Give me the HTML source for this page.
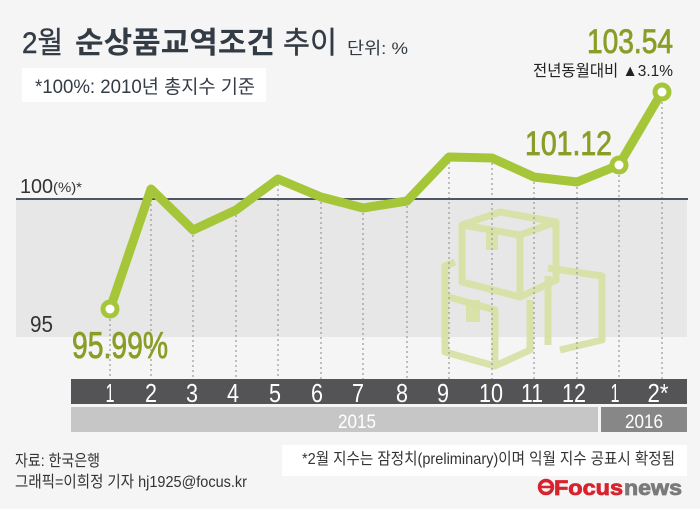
<!DOCTYPE html>
<html><head><meta charset="utf-8"><style>
html,body{margin:0;padding:0;background:#f5f5f5;}
svg{display:block;}
text{font-family:"Liberation Sans","Noto Sans CJK KR",sans-serif;}
</style></head><body>
<svg width="700" height="509" viewBox="0 0 700 509" xmlns="http://www.w3.org/2000/svg">
<rect x="0" y="0" width="700" height="509" fill="#f5f5f5"/>
<!-- gray band -->
<rect x="16" y="199" width="671" height="138" fill="#e7e7e7"/>
<!-- boxes icon -->
<g fill="none" stroke="#d7e1a2" stroke-width="7" stroke-linejoin="round" opacity="0.9">
  <polygon points="462,225 500,212 556,222 520,235"/>
  <polyline points="462,225 462,282 520,297 520,235"/>
  <polyline points="520,297 556,280 556,222"/>
  <polyline points="445,290 445,352 495,366 495,310 445,296"/>
  <polyline points="495,366 530,350 530,300"/>
  <polyline points="455,262 445,266 445,290"/>
  <polyline points="548,268 602,276 602,340 560,350"/>
  <polyline points="548,276 548,345"/>
</g>
<g fill="#d7e1a2" opacity="0.9">
  <rect x="486" y="230" width="12" height="20"/>
  <rect x="466" y="300" width="14" height="22"/>
</g>
<!-- dotted lines -->
<g stroke="#9a9a9a" stroke-width="1.2" stroke-dasharray="2,3">
  <line x1="110" y1="309" x2="110" y2="379"/>
  <line x1="151" y1="189" x2="151" y2="379"/>
  <line x1="193" y1="230" x2="193" y2="379"/>
  <line x1="236" y1="210" x2="236" y2="379"/>
  <line x1="278" y1="179" x2="278" y2="379"/>
  <line x1="321" y1="197" x2="321" y2="379"/>
  <line x1="363" y1="208" x2="363" y2="379"/>
  <line x1="407" y1="201" x2="407" y2="379"/>
  <line x1="449" y1="157" x2="449" y2="379"/>
  <line x1="492" y1="158" x2="492" y2="379"/>
  <line x1="534" y1="177" x2="534" y2="379"/>
  <line x1="577" y1="182" x2="577" y2="379"/>
  <line x1="619" y1="165" x2="619" y2="379"/>
  <line x1="662" y1="92" x2="662" y2="379"/>
</g>
<!-- 100 line -->
<line x1="16" y1="199" x2="688" y2="199" stroke="#4d5566" stroke-width="2"/>
<!-- data line -->
<polyline fill="none" stroke="#a6c63a" stroke-width="9" stroke-linejoin="round" stroke-linecap="round"
 points="110,309 151,189 193,230 236,210 278,179 321,197 363,208 407,201 449,157 492,158 534,177 577,182 619,165 662,92"/>
<g fill="#a6c63a"><circle cx="110" cy="309" r="9.5"/><circle cx="619" cy="165" r="9.5"/><circle cx="662" cy="92" r="9.5"/></g>
<g fill="#ffffff"><circle cx="110" cy="309" r="4.5"/><circle cx="619" cy="165" r="4.5"/><circle cx="662" cy="92" r="4.5"/></g>

<!-- title -->
<text x="22" y="53" font-size="30" fill="#333b45" stroke="#333b45" stroke-width="0.4" textLength="41" lengthAdjust="spacingAndGlyphs">2월</text>
<text x="75" y="53" font-size="30" font-weight="bold" fill="#333b45" textLength="200" lengthAdjust="spacingAndGlyphs">순상품교역조건</text>
<text x="283" y="53" font-size="30" fill="#333b45" stroke="#333b45" stroke-width="0.4" textLength="54" lengthAdjust="spacingAndGlyphs">추이</text>
<text x="347" y="54" font-size="17" fill="#333b45" textLength="61" lengthAdjust="spacingAndGlyphs">단위: %</text>
<rect x="22" y="68" width="244" height="34" fill="#ffffff"/>
<text x="35" y="93" font-size="19" fill="#333b45" textLength="220" lengthAdjust="spacingAndGlyphs">*100%: 2010년 총지수 기준</text>

<!-- value labels -->
<text x="587" y="53" font-size="34" fill="#8b9d27" stroke="#8b9d27" stroke-width="0.8" textLength="86" lengthAdjust="spacingAndGlyphs">103.54</text>
<text x="533" y="76" font-size="16" fill="#222" textLength="140" lengthAdjust="spacingAndGlyphs">전년동월대비 ▲3.1%</text>
<text x="525" y="155" font-size="34" fill="#8b9d27" stroke="#8b9d27" stroke-width="0.8" textLength="87" lengthAdjust="spacingAndGlyphs">101.12</text>
<text x="72" y="358" font-size="37" fill="#8b9d27" stroke="#8b9d27" stroke-width="0.8" textLength="96" lengthAdjust="spacingAndGlyphs">95.99%</text>

<!-- axis labels -->
<text x="20" y="193" font-size="20" fill="#333" textLength="33" lengthAdjust="spacingAndGlyphs">100</text>
<text x="53" y="192" font-size="14" fill="#333" textLength="29" lengthAdjust="spacingAndGlyphs">(%)*</text>
<text x="30" y="332" font-size="23" fill="#333" textLength="23" lengthAdjust="spacingAndGlyphs">95</text>

<!-- month band -->
<rect x="71" y="379" width="616" height="25" fill="#545457"/>
<g fill="#ffffff" font-size="26" text-anchor="middle">
  <text x="110" y="402" textLength="9" lengthAdjust="spacingAndGlyphs">1</text>
  <text x="151" y="402" textLength="12" lengthAdjust="spacingAndGlyphs">2</text>
  <text x="192" y="402" textLength="12" lengthAdjust="spacingAndGlyphs">3</text>
  <text x="233" y="402" textLength="12" lengthAdjust="spacingAndGlyphs">4</text>
  <text x="275" y="402" textLength="12" lengthAdjust="spacingAndGlyphs">5</text>
  <text x="317" y="402" textLength="12" lengthAdjust="spacingAndGlyphs">6</text>
  <text x="358" y="402" textLength="12" lengthAdjust="spacingAndGlyphs">7</text>
  <text x="402" y="402" textLength="12" lengthAdjust="spacingAndGlyphs">8</text>
  <text x="443" y="402" textLength="12" lengthAdjust="spacingAndGlyphs">9</text>
  <text x="491" y="402" textLength="24" lengthAdjust="spacingAndGlyphs">10</text>
  <text x="532" y="402" textLength="22" lengthAdjust="spacingAndGlyphs">11</text>
  <text x="574" y="402" textLength="24" lengthAdjust="spacingAndGlyphs">12</text>
  <text x="615" y="402" textLength="9" lengthAdjust="spacingAndGlyphs">1</text>
  <text x="658" y="402" textLength="21" lengthAdjust="spacingAndGlyphs">2*</text>
</g>
<!-- year band -->
<rect x="71" y="407" width="527" height="25" fill="#c6c6c6"/>
<rect x="601" y="407" width="86" height="25" fill="#878787"/>
<text x="338" y="428" font-size="19" fill="#ffffff" textLength="38" lengthAdjust="spacingAndGlyphs">2015</text>
<text x="625" y="428" font-size="19" fill="#ffffff" textLength="38" lengthAdjust="spacingAndGlyphs">2016</text>

<!-- footer -->
<text x="15" y="466" font-size="16" fill="#333" textLength="85" lengthAdjust="spacingAndGlyphs">자료: 한국은행</text>
<text x="15" y="487" font-size="16" fill="#333" textLength="232" lengthAdjust="spacingAndGlyphs">그래픽=이희정 기자 hj1925@focus.kr</text>
<rect x="282" y="445" width="405" height="31" fill="#ffffff"/>
<text x="302" y="464" font-size="16" fill="#333" textLength="373" lengthAdjust="spacingAndGlyphs">*2월 지수는 잠정치(preliminary)이며 익월 지수 공표시 확정됨</text>
<!-- logo -->
<circle cx="546" cy="487" r="6.5" fill="none" stroke="#d8222d" stroke-width="3.5"/>
<line x1="541" y1="487" x2="551" y2="487" stroke="#d8222d" stroke-width="2.5"/>
<text x="554" y="495" font-size="21" font-weight="bold" fill="#d8222d" stroke="#d8222d" stroke-width="0.8" textLength="69" lengthAdjust="spacingAndGlyphs">Focus</text>
<text x="624" y="495" font-size="21" font-weight="bold" fill="#7a7a7a" stroke="#7a7a7a" stroke-width="0.8" textLength="58" lengthAdjust="spacingAndGlyphs">news</text>
</svg>
</body></html>
